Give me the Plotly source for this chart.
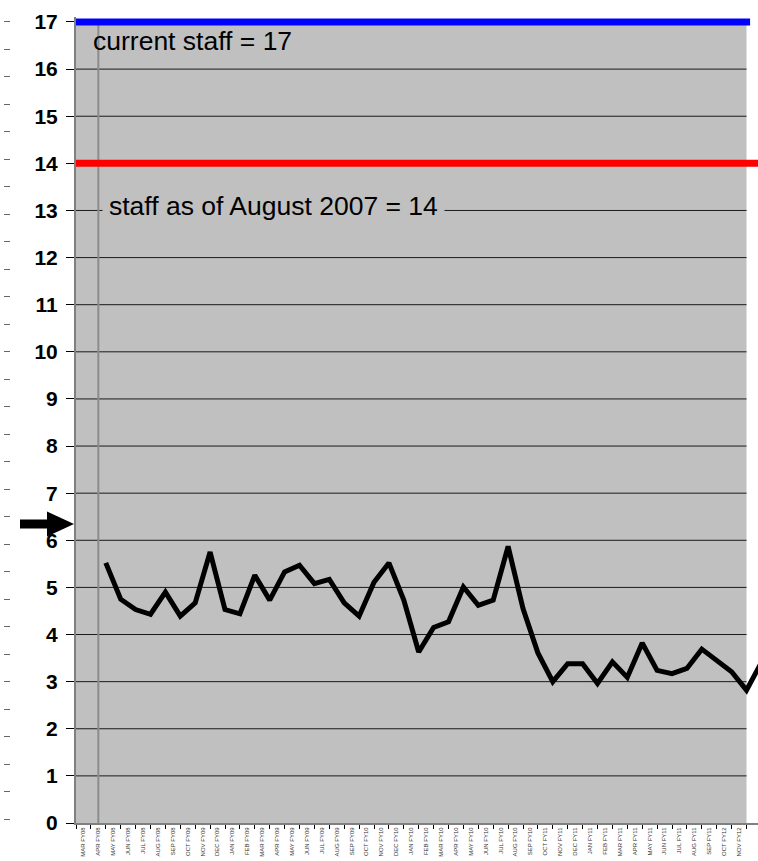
import plotly.graph_objects as go

# ---------------- data ----------------
months = ["MAR FY08", "APR FY08", "MAY FY08", "JUN FY08", "JUL FY08", "AUG FY08", "SEP FY08",
          "OCT FY09", "NOV FY09", "DEC FY09", "JAN FY09", "FEB FY09", "MAR FY09", "APR FY09",
          "MAY FY09", "JUN FY09", "JUL FY09", "AUG FY09", "SEP FY09",
          "OCT FY10", "NOV FY10", "DEC FY10", "JAN FY10", "FEB FY10", "MAR FY10", "APR FY10",
          "MAY FY10", "JUN FY10", "JUL FY10", "AUG FY10", "SEP FY10",
          "OCT FY11", "NOV FY11", "DEC FY11", "JAN FY11", "FEB FY11", "MAR FY11", "APR FY11",
          "MAY FY11", "JUN FY11", "JUL FY11", "AUG FY11", "SEP FY11",
          "OCT FY12", "NOV FY12"]

staff_values = [5.52, 4.75, 4.53, 4.43, 4.90, 4.39, 4.67, 5.75, 4.53, 4.44,
                5.26, 4.73, 5.33, 5.47, 5.08, 5.17, 4.67, 4.39, 5.11, 5.52,
                4.73, 3.63, 4.15, 4.27, 5.01, 4.62, 4.73, 5.87, 4.55, 3.61,
                3.00, 3.38, 3.38, 2.96, 3.42, 3.09, 3.82, 3.24, 3.17, 3.28,
                3.69, 3.45, 3.21, 2.82, 3.41]
# line points sit on category boundaries, starting between APR FY08 and MAY FY08
staff_start = 1.5

current_staff = 17
aug2007_staff = 14
y_ticks = list(range(0, 18))
marker_month = 1  # APR FY08 vertical line

# ---------------- layout constants ----------------
W, H = 758, 861
FONT = "Liberation Sans, Arial, sans-serif"
X_LEFT_PX = 76.0
X_UNIT = 14.9
x_lo = -0.5
x_hi = x_lo + (W - X_LEFT_PX) / X_UNIT
TOP, BOT = 17, 38
y_hi = 17.106

n = len(months)
x_cat = list(range(n))
x_line = [staff_start + k for k in range(len(staff_values))]

fig = go.Figure()

# reference lines
fig.add_trace(go.Scatter(x=[x_lo, 44.74], y=[current_staff, current_staff], mode="lines",
                         line=dict(color="#0000FF", width=7), hoverinfo="skip", showlegend=False))
fig.add_trace(go.Scatter(x=[x_lo, x_hi], y=[aug2007_staff, aug2007_staff], mode="lines",
                         line=dict(color="#FF0000", width=7), hoverinfo="skip", showlegend=False))
# data line
fig.add_trace(go.Scatter(x=x_line, y=staff_values, mode="lines",
                         line=dict(color="black", width=5), showlegend=False))
# dummy trace for the left dash scale
fig.add_trace(go.Scatter(x=[None], y=[None], yaxis="y2", showlegend=False, hoverinfo="skip"))

shapes = []
# gray plot background
shapes.append(dict(type="rect", xref="x", yref="y", x0=x_lo, x1=n - 0.5, y0=0, y1=17,
                   fillcolor="#C0C0C0", line=dict(width=0), layer="below"))
# horizontal gridlines
for v in y_ticks[1:17]:
    shapes.append(dict(type="line", xref="x", yref="y", x0=x_lo, x1=n - 0.5, y0=v, y1=v,
                       line=dict(color="#1a1a1a", width=1), layer="below"))
# vertical line at APR FY08
shapes.append(dict(type="line", xref="x", yref="y", x0=marker_month, x1=marker_month, y0=0, y1=17,
                   line=dict(color="#8c8c8c", width=2), layer="below"))

# arrow pointing at the axis (pixel-based decoration)
def px2paper(px, py):
    return px / W, (H - BOT - py) / (H - TOP - BOT)

pts = [(20, 519.5), (47, 519.5), (47, 511.5), (74, 524), (47, 536.5), (47, 528.5), (20, 528.5)]
pp = [px2paper(a, b) for a, b in pts]
path = "M " + " L ".join(f"{a:.5f},{b:.5f}" for a, b in pp) + " Z"
shapes.append(dict(type="path", xref="paper", yref="paper", path=path,
                   fillcolor="black", line=dict(color="black", width=0), layer="above"))

fig.update_layout(
    width=W, height=H,
    margin=dict(l=0, r=0, t=TOP, b=BOT, pad=0),
    paper_bgcolor="white", plot_bgcolor="rgba(0,0,0,0)",
    font=dict(family=FONT, color="black"),
    shapes=shapes,
    xaxis=dict(domain=[X_LEFT_PX / W, 1], range=[x_lo, x_hi], showgrid=False, zeroline=False,
               tickmode="array", tickvals=x_cat, ticktext=months, tickangle=-90,
               tickfont=dict(family=FONT, size=6, color="#333333"), ticks="",
               showline=True, linecolor="#808080", linewidth=2,
               minor=dict(tickmode="array", tickvals=[i - 0.5 for i in range(n + 1)],
                          ticks="outside", ticklen=4, tickcolor="black", tickwidth=1, showgrid=False)),
    yaxis=dict(range=[0, y_hi], tickmode="array", tickvals=y_ticks, showgrid=False, zeroline=False,
               ticks="outside", ticklen=8, tickcolor="black", tickwidth=1,
               tickfont=dict(family=FONT, size=21, color="black", weight="bold"),
               showline=True, linecolor="#808080", linewidth=2, ticklabelstandoff=4),
    yaxis2=dict(overlaying="y", anchor="free", position=9.5 / W, side="left",
                range=[-0.145, 29.17], tickmode="linear", tick0=0, dtick=1,
                ticks="outside", ticklen=6, tickcolor="#666666", tickwidth=1,
                showticklabels=False, showgrid=False, zeroline=False, showline=False),
    annotations=[
        dict(text="current staff = 17", xref="x", yref="y", x=(92 - X_LEFT_PX) / X_UNIT - 0.5 - 0.07,
             y=16.6, xanchor="left", yanchor="middle", showarrow=False,
             font=dict(family=FONT, size=26.5, color="black")),
        dict(text="staff as of August 2007 = 14", xref="x", yref="y",
             x=(102 - X_LEFT_PX) / X_UNIT - 0.5, y=13.1, xanchor="left", yanchor="middle",
             showarrow=False, bgcolor="#C0C0C0", borderpad=6,
             font=dict(family=FONT, size=26.5, color="black")),
    ],
)

fig.write_html("out.html", config={"displayModeBar": False},
               post_script="document.body.style.margin='0px';")
